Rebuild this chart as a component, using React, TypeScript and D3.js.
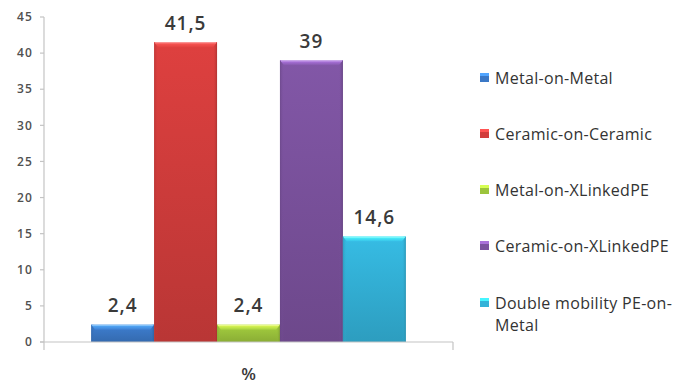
import React from "react";
import * as d3 from "d3";

const categories = [
  "Metal-on-Metal",
  "Ceramic-on-Ceramic",
  "Metal-on-XLinkedPE",
  "Ceramic-on-XLinkedPE",
  "Double mobility PE-on-Metal",
];
const values = [2.4, 41.5, 2.4, 39, 14.6];
const valueLabels = ["2,4", "41,5", "2,4", "39", "14,6"];
const colors = ["#3b78c6", "#d23d3c", "#9cc43c", "#7b529e", "#33b2d8"];
const yTicks = [0, 5, 10, 15, 20, 25, 30, 35, 40, 45];
const legendLines = [
  ["Metal-on-Metal"],
  ["Ceramic-on-Ceramic"],
  ["Metal-on-XLinkedPE"],
  ["Ceramic-on-XLinkedPE"],
  ["Double mobility PE-on-", "Metal"],
];
const axisTitle = "%";

const W = 673;
const H = 384;
const plot = { left: 44, right: 453, top: 17, bottom: 342 };
const FONT = "'Open Sans', 'Noto Sans', sans-serif";

export default function App() {
  const y = d3.scaleLinear().domain([0, 45]).range([plot.bottom, plot.top]);
  // single category group, gap width 150% of a bar
  const unit = (plot.right - plot.left) / (categories.length + 1.5);
  const x = d3
    .scaleBand<string>()
    .domain(categories)
    .range([plot.left + unit * 0.75, plot.right - unit * 0.75])
    .paddingInner(0);

  const legendY = [78, 134, 190, 246, 303];

  return (
    <div style={{ position: "absolute", left: 0, top: 0 }}>
      <svg width={W} height={H} style={{ display: "block", background: "#fff" }}>
        <defs>
          {colors.map((c, i) => {
            const base = d3.color(c)!;
            return (
              <React.Fragment key={i}>
                <linearGradient id={`body${i}`} x1="0" y1="0" x2="0" y2="1">
                  <stop offset="0%" stopColor={base.brighter(0.15).formatHex()} />
                  <stop offset="100%" stopColor={base.darker(0.35).formatHex()} />
                </linearGradient>
                <linearGradient id={`side${i}`} x1="0" y1="0" x2="1" y2="0">
                  <stop offset="0%" stopColor={base.darker(0.5).formatHex()} stopOpacity={0.7} />
                  <stop offset="6%" stopColor={base.formatHex()} stopOpacity={0} />
                  <stop offset="94%" stopColor={base.formatHex()} stopOpacity={0} />
                  <stop offset="100%" stopColor={base.darker(0.7).formatHex()} stopOpacity={0.8} />
                </linearGradient>
                <linearGradient id={`top${i}`} x1="0" y1="0" x2="0" y2="1">
                  <stop offset="0%" stopColor={base.brighter(1.1).formatHex()} />
                  <stop offset="100%" stopColor={base.brighter(0.2).formatHex()} />
                </linearGradient>
              </React.Fragment>
            );
          })}
        </defs>

        {/* y axis */}
        <line x1={plot.left} x2={plot.left} y1={plot.top} y2={plot.bottom + 8} stroke="#c4c4c4" strokeWidth={1.2} />
        {yTicks.map((t) => (
          <g key={t}>
            <line x1={plot.left - 4} x2={plot.left} y1={y(t)} y2={y(t)} stroke="#c4c4c4" strokeWidth={1.2} />
            <text
              x={33}
              y={y(t)}
              dy="0.35em"
              textAnchor="end"
              fontFamily={FONT}
              fontSize={12}
              fontWeight={600}
              letterSpacing={1.2}
              fill="#505050"
            >
              {t}
            </text>
          </g>
        ))}

        {/* bars */}
        {categories.map((cat, i) => {
          const bx = x(cat)!;
          const bw = x.bandwidth();
          const top = y(values[i]);
          const h = plot.bottom - top;
          const bev = Math.min(5, h / 2);
          return (
            <g key={cat}>
              <rect x={bx} y={top} width={bw} height={h} fill={`url(#body${i})`} />
              <rect x={bx} y={top} width={bw} height={h} fill={`url(#side${i})`} />
              <polygon
                points={`${bx},${top} ${bx + bw},${top} ${bx + bw - 4},${top + bev} ${bx + 4},${top + bev}`}
                fill={`url(#top${i})`}
              />
              <line x1={bx + 1} x2={bx + bw - 1} y1={top + 0.5} y2={top + 0.5} stroke="#fff" strokeOpacity={0.45} />
              <text
                x={bx + bw / 2}
                y={top - 12.5}
                textAnchor="middle"
                fontFamily={FONT}
                fontSize={19}
                fontWeight={600}
                letterSpacing={1}
                fill="#3a3a3a"
              >
                {valueLabels[i]}
              </text>
            </g>
          );
        })}

        {/* x axis */}
        <line x1={plot.left - 4} x2={plot.right} y1={plot.bottom} y2={plot.bottom} stroke="#c4c4c4" strokeWidth={1.2} />
        <line x1={plot.right} x2={plot.right} y1={plot.bottom} y2={plot.bottom + 8} stroke="#c4c4c4" strokeWidth={1.2} />
        <text
          x={(plot.left + plot.right) / 2}
          y={380}
          textAnchor="middle"
          fontFamily={FONT}
          fontSize={17}
          fontWeight={600}
          fill="#3a3a3a"
        >
          {axisTitle}
        </text>

        {/* legend */}
        {legendLines.map((lines, i) => {
          const base = d3.color(colors[i])!;
          return (
            <g key={i}>
              <rect x={480} y={legendY[i] - 5} width={9} height={9} fill={colors[i]} />
              <rect x={480} y={legendY[i] - 5} width={9} height={3} fill={base.brighter(0.9).formatHex()} />
              {lines.map((ln, j) => (
                <text
                  key={j}
                  x={495}
                  y={legendY[i] + j * 22}
                  dy="0.35em"
                  fontFamily={FONT}
                  fontSize={16}
                  fontWeight={500}
                  letterSpacing={0.3}
                  fill="#333333"
                >
                  {ln}
                </text>
              ))}
            </g>
          );
        })}
      </svg>
    </div>
  );
}
